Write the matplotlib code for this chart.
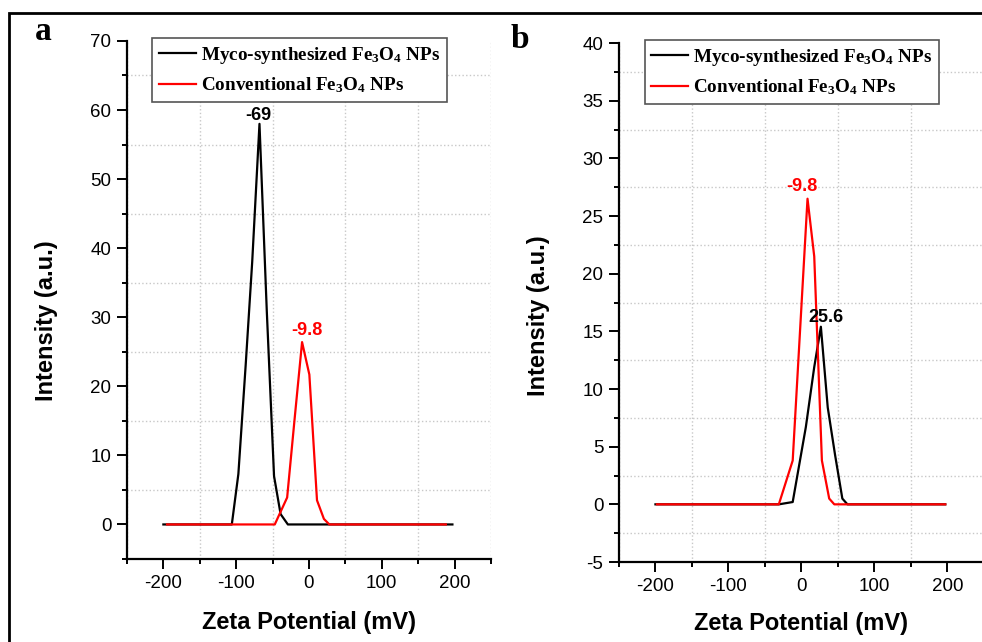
import matplotlib
matplotlib.use("Agg")
import matplotlib.pyplot as plt
from matplotlib.ticker import MultipleLocator
from matplotlib.patches import Rectangle

plt.rcParams["font.family"] = "Liberation Sans"
plt.rcParams["axes.unicode_minus"] = False
plt.rcParams["mathtext.fontset"] = "custom"
plt.rcParams["mathtext.rm"] = "Liberation Serif:bold"
plt.rcParams["mathtext.it"] = "Liberation Serif:bold"
plt.rcParams["mathtext.bf"] = "Liberation Serif:bold"

# panel a: zeta potential distributions
a_myco_x = [-200, -106, -97, -87, -78, -68, -58, -48, -39, -29, 197]
a_myco_y = [0, 0, 7.3, 23, 38, 58, 31, 7, 1.5, 0, 0]
a_conv_x = [-195, -47, -30, -20, -9.5, 0.5, 11, 20.5, 28, 188]
a_conv_y = [0, 0, 3.9, 15, 26.4, 21.7, 3.5, 0.8, 0, 0]

# panel b
b_myco_x = [-200, -31, -12, 6, 17.5, 26.6, 36, 46, 56, 63, 197]
b_myco_y = [0, 0, 0.2, 6.7, 11.9, 15.4, 8.4, 4.3, 0.5, 0, 0]
b_conv_x = [-198, -31, -12, 8.3, 17.5, 28, 38, 45, 197]
b_conv_y = [0, 0, 3.8, 26.5, 21.5, 3.8, 0.5, 0, 0]

series_labels = ["Myco-synthesized Fe$_3$O$_4$ NPs", "Conventional Fe$_3$O$_4$ NPs"]

a_peaks = [(-69, 58.6, "-69", "black"), (-3.4, 27.5, "-9.8", "red")]
b_peaks = [(1, 27.2, "-9.8", "red"), (33.3, 15.8, "25.6", "black")]


def style_axes(ax, ylim, ymajor, yminor):
    ax.set_xlim(-250, 250)
    ax.set_ylim(*ylim)
    ax.xaxis.set_major_locator(MultipleLocator(100))
    ax.xaxis.set_minor_locator(MultipleLocator(50))
    ax.yaxis.set_major_locator(MultipleLocator(ymajor))
    ax.yaxis.set_minor_locator(MultipleLocator(yminor))
    for side in ["top", "right"]:
        ax.spines[side].set_visible(False)
    for side in ["left", "bottom"]:
        ax.spines[side].set_linewidth(1.6)
    ax.tick_params(which="major", direction="out", length=7.2, width=1.4,
                   labelsize=13.5, pad=4)
    ax.tick_params(which="minor", direction="out", length=3.6, width=1.4)
    ax.grid(which="minor", ls=":", color="#c8c8c8", lw=1.0)
    ax.grid(which="major", visible=False)
    ax.set_xlabel("Zeta Potential (mV)", fontsize=17, weight="bold")
    ax.set_ylabel("Intensity (a.u.)", fontsize=17, weight="bold")


def draw_panel(ax, myco_x, myco_y, conv_x, conv_y, peaks):
    ax.plot(myco_x, myco_y, color="black", lw=1.6, label=series_labels[0])
    ax.plot(conv_x, conv_y, color="red", lw=1.6, label=series_labels[1])
    for x, y, txt, c in peaks:
        ax.text(x, y, txt, color=c, fontsize=13, weight="bold",
                ha="center", va="baseline")
    leg = ax.legend(loc="upper left", bbox_to_anchor=(0.07, 1.005),
                    borderaxespad=0, fancybox=False, framealpha=1,
                    edgecolor="#555555", handlelength=1.9, handletextpad=0.3,
                    borderpad=0.35, labelspacing=0.5,
                    prop={"family": "Liberation Serif", "weight": "bold", "size": 13.8})
    leg.get_frame().set_linewidth(1.2)


fig = plt.figure(figsize=(9.82, 6.42), dpi=100)

ax_a = fig.add_axes([0.1293, 0.1293, 0.3707, 0.8069])
draw_panel(ax_a, a_myco_x, a_myco_y, a_conv_x, a_conv_y, a_peaks)
style_axes(ax_a, (-5, 70), 10, 5)
ax_a.yaxis.set_label_coords(-0.19, 0.46)
ax_a.xaxis.set_label_coords(0.5, -0.1)

ax_b = fig.add_axes([0.6303, 0.1246, 0.3717, 0.8084])
draw_panel(ax_b, b_myco_x, b_myco_y, b_conv_x, b_conv_y, b_peaks)
style_axes(ax_b, (-5, 40), 5, 2.5)
ax_b.yaxis.set_label_coords(-0.19, 0.475)
ax_b.xaxis.set_label_coords(0.5, -0.097)

fig.text(43 / 982, 1 - 40 / 642, "a", fontsize=24, weight="bold",
         family="Liberation Serif", ha="center", va="baseline")
fig.text(520 / 982, 1 - 48 / 642, "b", fontsize=24, weight="bold",
         family="Liberation Serif", ha="center", va="baseline")

# outer frame (top and left edges visible in the original crop)
fig.add_artist(Rectangle((9 / 982, -0.1), 1.2, 1 - 13 / 642 + 0.1,
                         transform=fig.transFigure, fill=False,
                         lw=2.0, ec="black"))

fig.savefig("out.png", dpi=100)
plt.close(fig)
